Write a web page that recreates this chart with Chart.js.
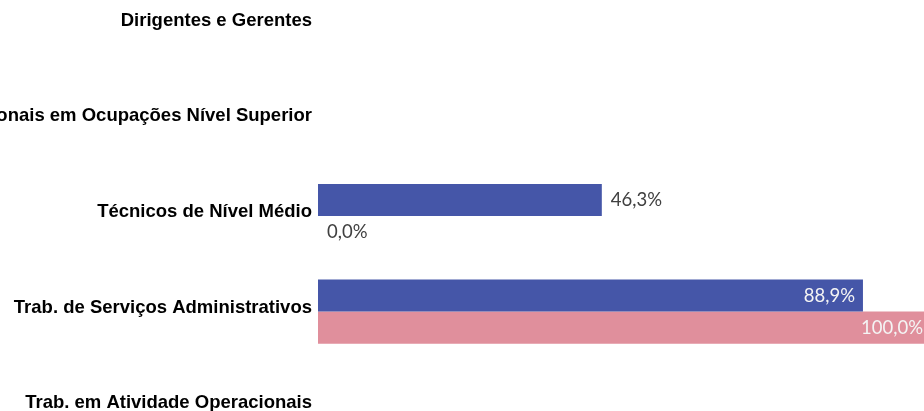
<!DOCTYPE html>
<html>
<head>
<meta charset="utf-8">
<script src="https://cdn.jsdelivr.net/npm/chart.js@4/dist/chart.umd.min.js"></script>
<style>
  html, body { margin: 0; padding: 0; background: #fff; }
  #wrap { position: relative; width: 924px; height: 411px; overflow: hidden; }
  #chart { position: absolute; left: 0; top: -23px; }
</style>
</head>
<body>
<div id="wrap"><canvas id="chart" width="931" height="478"></canvas></div>
<script>
const categories = [
    'Dirigentes e Gerentes',
    'Profissionais em Ocupações Nível Superior',
    'Técnicos de Nível Médio',
    'Trab. de Serviços Administrativos',
    'Trab. em Atividade Operacionais'
];
const seriesA = [null, null, 46.3, 88.9, null];
const seriesB = [null, null, 0.0, 100.0, null];

const fmt = v => v.toFixed(1).replace('.', ',') + '%';

// simple data label plugin (no datalabels plugin available offline)
const barLabels = {
    id: 'barLabels',
    afterDatasetsDraw(chart) {
        const ctx = chart.ctx;
        ctx.save();
        ctx.font = '18.5px Lato';
        ctx.textBaseline = 'middle';
        chart.data.datasets.forEach((ds, i) => {
            const meta = chart.getDatasetMeta(i);
            meta.data.forEach((bar, j) => {
                const v = ds.data[j];
                if (v === null || v === undefined) return;
                const txt = fmt(v);
                if (v >= 80) {
                    ctx.fillStyle = '#f4f4f4';
                    ctx.textAlign = 'right';
                    ctx.fillText(txt, bar.x - 8, bar.y);
                } else {
                    ctx.fillStyle = '#404040';
                    ctx.textAlign = 'left';
                    ctx.fillText(txt, bar.x + 9, bar.y);
                }
            });
        });
        ctx.restore();
    }
};

new Chart(document.getElementById('chart'), {
    type: 'bar',
    data: {
        labels: categories,
        datasets: [{
            label: 'Série 1',
            data: seriesA,
            backgroundColor: '#4556a8',
            categoryPercentage: 0.67,
            barPercentage: 1
        }, {
            label: 'Série 2',
            data: seriesB,
            backgroundColor: '#e08f9c',
            categoryPercentage: 0.67,
            barPercentage: 1
        }]
    },
    options: {
        indexAxis: 'y',
        responsive: false,
        animation: false,
        devicePixelRatio: 1,
        layout: { padding: 0 },
        plugins: {
            legend: { display: false },
            tooltip: { enabled: false }
        },
        scales: {
            x: { display: false, min: 0, max: 100 },
            y: {
                grid: { display: false, drawTicks: false },
                border: { display: false },
                ticks: {
                    padding: 6,
                    labelOffset: -4,
                    color: '#000',
                    font: { family: 'Liberation Sans', size: 18.5, weight: 'bold' }
                },
                afterFit(scale) {
                    scale.width = 318;
                    scale.paddingTop = 0;
                    scale.paddingBottom = 0;
                }
            }
        }
    },
    plugins: [barLabels]
});
</script>
</body>
</html>
